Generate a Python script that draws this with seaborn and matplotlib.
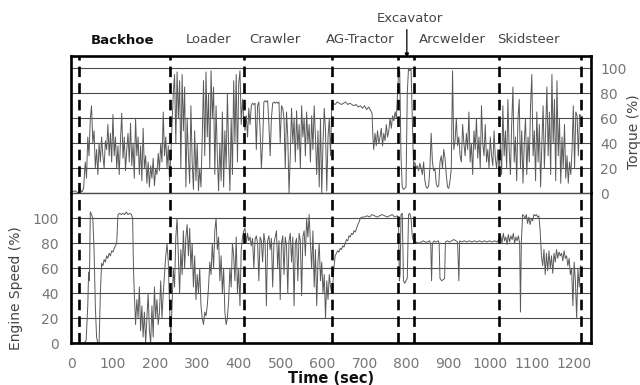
import matplotlib
matplotlib.use("Agg")
import matplotlib.pyplot as plt
import seaborn as sns
import pandas as pd
from matplotlib.transforms import blended_transform_factory

# ---------------- data ----------------
segment_names = ["Backhoe", "Loader", "Crawler", "AG-Tractor", "Excavator", "Arcwelder", "Skidsteer"]
segment_bounds = [19, 236, 413, 623, 780, 819, 1021, 1217]
x_ticks = [0, 100, 200, 300, 400, 500, 600, 700, 800, 900, 1000, 1100, 1200]
y_ticks = [0, 20, 40, 60, 80, 100]

# torque (%) : (time s, value)
torque_backhoe = [
    (0, 1), (10, 2), (18, 0), (22, 3), (26, 1), (30, 4), (34, 25), (37, 12), (40, 45), (43, 30), (46, 60),
    (49, 70), (52, 40), (55, 50), (58, 20), (61, 35), (64, 15), (67, 40), (70, 25), (73, 45), (76, 30),
    (79, 20), (82, 42), (85, 35), (88, 55), (91, 30), (94, 48), (97, 25), (100, 63), (103, 30), (106, 45),
    (109, 20), (112, 38), (115, 15), (118, 42), (121, 64), (124, 28), (127, 45), (130, 18), (133, 35),
    (136, 48), (139, 25), (142, 56), (145, 22), (148, 40), (151, 12), (154, 60), (157, 30), (160, 45),
    (163, 15), (166, 38), (169, 10), (172, 52), (175, 20), (178, 30), (181, 8), (184, 25), (187, 5),
    (190, 22), (193, 12), (196, 28), (199, 6), (202, 20), (205, 15), (208, 32), (211, 18), (214, 40),
    (217, 25), (220, 65), (223, 30), (226, 45), (229, 20), (232, 38), (235, 10),
]
torque_loader = [
    (238, 30), (241, 55), (244, 80), (247, 95), (250, 40), (253, 97), (256, 60), (259, 90), (262, 20),
    (265, 95), (268, 50), (271, 85), (274, 5), (277, 60), (280, 30), (283, 8), (286, 70), (289, 25),
    (292, 3), (295, 50), (298, 10), (301, 40), (304, 2), (307, 20), (310, 5), (313, 45), (316, 90),
    (319, 30), (322, 97), (325, 45), (328, 80), (331, 20), (334, 98), (337, 60), (340, 85), (343, 15),
    (346, 70), (349, 30), (352, 2), (355, 40), (358, 10), (361, 65), (364, 5), (367, 50), (370, 20),
    (373, 80), (376, 35), (379, 2), (382, 60), (385, 15), (388, 90), (391, 40), (394, 95), (397, 25),
    (400, 88), (403, 98), (406, 55), (409, 75), (412, 60),
]
torque_crawler = [
    (415, 50), (418, 62), (421, 45), (424, 68), (427, 55), (430, 70), (433, 72), (436, 71), (439, 72),
    (442, 35), (445, 70), (448, 73), (451, 50), (454, 20), (457, 40), (460, 73), (463, 74), (466, 73),
    (469, 74), (472, 55), (475, 30), (478, 60), (481, 72), (484, 73), (487, 72), (490, 73), (493, 72),
    (496, 73), (499, 40), (502, 70), (505, 68), (508, 60), (511, 20), (514, 65), (517, 45), (520, 0),
    (523, 30), (526, 68), (529, 40), (532, 60), (535, 25), (538, 66), (541, 35), (544, 55), (547, 20),
    (550, 70), (553, 45), (556, 60), (559, 30), (562, 65), (565, 40), (568, 55), (571, 25), (574, 62),
    (577, 35), (580, 70), (583, 45), (586, 15), (589, 50), (592, 5), (595, 60), (598, 0), (601, 40),
    (604, 68), (607, 50), (610, 2), (613, 45), (616, 60), (619, 30), (622, 72),
]
torque_agtractor = [
    (625, 72), (630, 71), (635, 73), (640, 72), (645, 71), (650, 72), (655, 73), (660, 71), (665, 72),
    (670, 71), (675, 70), (680, 71), (685, 69), (690, 70), (695, 68), (700, 70), (705, 67), (710, 69),
    (715, 66), (718, 64), (720, 45), (722, 35), (725, 48), (728, 38), (731, 50), (734, 40), (737, 45),
    (740, 52), (743, 38), (746, 48), (749, 42), (752, 55), (755, 45), (758, 50), (761, 60), (764, 52),
    (767, 62), (770, 58), (773, 65), (776, 60), (779, 80),
]
torque_excavator = [
    (781, 95), (784, 98), (787, 30), (790, 5), (793, 3), (796, 4), (799, 5), (802, 80), (805, 100),
    (808, 98), (811, 100), (814, 60), (817, 20),
]
torque_arcwelder = [
    (820, 25), (823, 20), (826, 22), (829, 18), (832, 24), (835, 20), (838, 15), (841, 25), (844, 10),
    (847, 5), (850, 4), (853, 6), (856, 20), (859, 48), (862, 25), (865, 18), (868, 20), (871, 8),
    (874, 5), (877, 6), (880, 25), (883, 30), (886, 20), (889, 35), (892, 28), (895, 15), (898, 5),
    (901, 4), (904, 10), (907, 20), (910, 98), (913, 35), (916, 42), (919, 60), (922, 38), (925, 45),
    (928, 30), (931, 25), (934, 55), (937, 40), (940, 30), (943, 48), (946, 35), (949, 65), (952, 25),
    (955, 40), (958, 15), (961, 50), (964, 35), (967, 60), (970, 28), (973, 45), (976, 20), (979, 70),
    (982, 40), (985, 30), (988, 55), (991, 25), (994, 35), (997, 20), (1000, 45), (1003, 30), (1006, 22),
    (1009, 50), (1012, 28), (1015, 20), (1018, 35), (1021, 18),
]
torque_skidsteer = [
    (1024, 40), (1027, 15), (1030, 70), (1033, 30), (1036, 50), (1039, 20), (1042, 75), (1045, 35),
    (1048, 15), (1051, 55), (1054, 85), (1057, 25), (1060, 45), (1063, 10), (1066, 60), (1069, 75),
    (1072, 20), (1075, 50), (1078, 8), (1081, 40), (1084, 60), (1087, 15), (1090, 45), (1093, 25),
    (1096, 70), (1099, 95), (1102, 30), (1105, 50), (1108, 10), (1111, 65), (1114, 25), (1117, 55),
    (1120, 5), (1123, 40), (1126, 70), (1129, 20), (1132, 50), (1135, 85), (1138, 30), (1141, 65),
    (1144, 15), (1147, 95), (1150, 40), (1153, 75), (1156, 10), (1159, 90), (1162, 30), (1165, 60),
    (1168, 8), (1171, 45), (1174, 20), (1177, 55), (1180, 12), (1183, 30), (1186, 8), (1189, 25),
    (1192, 15), (1195, 35), (1198, 70), (1201, 20), (1204, 65), (1207, 62), (1210, 30), (1213, 63),
    (1216, 62),
]

# engine speed (%) : (time s, value)
speed_backhoe = [
    (0, 0), (20, 0), (30, 0), (36, 2), (40, 30), (42, 57), (44, 50), (46, 105), (49, 103), (52, 100),
    (55, 75), (58, 30), (61, 5), (64, 0), (67, 0), (70, 40), (73, 64), (76, 62), (79, 67), (82, 65),
    (85, 70), (88, 68), (91, 72), (94, 70), (97, 74), (100, 73), (103, 76), (106, 78), (109, 80),
    (112, 103), (116, 104), (120, 103), (124, 104), (128, 103), (132, 105), (136, 103), (140, 104),
    (144, 103), (147, 100), (149, 60), (151, 40), (154, 15), (157, 35), (160, 20), (163, 45), (166, 10),
    (169, 30), (172, 5), (175, 25), (178, 0), (181, 20), (184, 40), (187, 10), (190, 0), (193, 30),
    (196, 5), (199, 45), (202, 20), (205, 35), (208, 15), (211, 25), (214, 50), (217, 20), (220, 40),
    (223, 55), (226, 70), (229, 80), (232, 65), (235, 30),
]
speed_loader = [
    (238, 5), (241, 30), (244, 60), (247, 45), (250, 85), (253, 100), (256, 70), (259, 40), (262, 75),
    (265, 55), (268, 90), (271, 60), (274, 85), (277, 95), (280, 70), (283, 92), (286, 60), (289, 80),
    (292, 45), (295, 70), (298, 35), (301, 55), (304, 40), (307, 60), (310, 30), (313, 20), (316, 15),
    (319, 25), (322, 22), (325, 30), (328, 45), (331, 65), (334, 55), (337, 80), (340, 60), (343, 90),
    (346, 100), (349, 75), (352, 85), (355, 50), (358, 70), (361, 40), (364, 60), (367, 25), (370, 15),
    (373, 20), (376, 35), (379, 60), (382, 45), (385, 80), (388, 70), (391, 50), (394, 85), (397, 40),
    (400, 60), (403, 30), (406, 75), (409, 85), (412, 90),
]
speed_crawler = [
    (415, 92), (418, 80), (421, 88), (424, 82), (427, 85), (430, 78), (433, 84), (436, 60), (439, 83),
    (442, 86), (445, 80), (448, 50), (451, 85), (454, 82), (457, 65), (460, 88), (463, 80), (466, 30),
    (469, 82), (472, 86), (475, 75), (478, 84), (481, 45), (484, 80), (487, 85), (490, 90), (493, 60),
    (496, 82), (499, 35), (502, 80), (505, 86), (508, 55), (511, 85), (514, 78), (517, 40), (520, 82),
    (523, 88), (526, 65), (529, 85), (532, 30), (535, 80), (538, 84), (541, 50), (544, 88), (547, 82),
    (550, 38), (553, 85), (556, 90), (559, 70), (562, 100), (565, 85), (568, 103), (571, 80), (574, 60),
    (577, 90), (580, 45), (583, 75), (586, 30), (589, 65), (592, 80), (595, 50), (598, 65), (601, 40),
    (604, 55), (607, 20), (610, 50), (613, 35), (616, 55), (619, 45), (622, 40),
]
speed_agtractor = [
    (624, 45), (627, 60), (630, 70), (633, 72), (636, 74), (639, 73), (642, 76), (645, 75), (648, 78),
    (651, 77), (654, 80), (657, 83), (660, 82), (663, 86), (666, 85), (669, 88), (672, 87), (675, 90),
    (678, 89), (681, 92), (684, 95), (687, 97), (690, 100), (694, 101), (700, 101), (706, 102), (712, 101),
    (718, 103), (724, 102), (730, 101), (736, 102), (742, 103), (748, 102), (754, 101), (760, 102),
    (766, 103), (772, 101), (778, 102),
]
speed_excavator = [
    (781, 100), (783, 50), (785, 55), (787, 103), (790, 104), (793, 50), (796, 48), (799, 50), (802, 52),
    (805, 103), (808, 104), (811, 100), (814, 85), (817, 82),
]
speed_arcwelder = [
    (820, 80), (825, 81), (830, 80), (835, 81), (840, 82), (845, 81), (850, 81), (855, 82), (858, 80),
    (860, 50), (862, 80), (866, 82), (870, 81), (876, 82), (878, 80), (880, 52), (884, 50), (888, 51),
    (891, 52), (893, 81), (898, 82), (903, 81), (908, 82), (913, 83), (918, 82), (922, 81), (925, 50),
    (927, 82), (932, 81), (938, 82), (944, 81), (950, 82), (956, 81), (962, 82), (968, 81), (974, 82),
    (980, 81), (986, 82), (992, 81), (998, 82), (1004, 81), (1010, 82), (1016, 81), (1020, 83),
]
speed_skidsteer = [
    (1022, 82), (1025, 86), (1028, 80), (1031, 88), (1034, 82), (1037, 85), (1040, 79), (1043, 87),
    (1046, 81), (1049, 86), (1052, 83), (1055, 88), (1058, 80), (1061, 85), (1064, 82), (1067, 86),
    (1070, 80), (1072, 25), (1074, 80), (1077, 103), (1080, 102), (1083, 100), (1086, 103), (1089, 96),
    (1092, 101), (1095, 95), (1098, 100), (1101, 98), (1104, 103), (1107, 102), (1110, 103), (1113, 101),
    (1116, 102), (1119, 90), (1122, 70), (1125, 62), (1128, 75), (1131, 55), (1134, 72), (1137, 58),
    (1140, 74), (1143, 60), (1146, 70), (1149, 56), (1152, 72), (1155, 65), (1158, 75), (1161, 68),
    (1164, 73), (1167, 70), (1170, 72), (1173, 66), (1176, 74), (1179, 68), (1182, 70), (1185, 62),
    (1188, 68), (1191, 55), (1194, 60), (1197, 30), (1200, 65), (1203, 50), (1206, 20), (1209, 60),
    (1212, 45), (1215, 62),
]

label_times = [122, 329, 487, 690, 809, 909, 1091]

torque_pts = (torque_backhoe + torque_loader + torque_crawler + torque_agtractor
              + torque_excavator + torque_arcwelder + torque_skidsteer)
speed_pts = (speed_backhoe + speed_loader + speed_crawler + speed_agtractor
             + speed_excavator + speed_arcwelder + speed_skidsteer)
torque_df = pd.DataFrame(torque_pts, columns=["time", "torque"])
speed_df = pd.DataFrame(speed_pts, columns=["time", "speed"])

# ---------------- styling ----------------
sns.set_style("white")
plt.rcParams["font.family"] = ["DejaVu Sans"]

W, H = 640, 385
fig = plt.figure(figsize=(W / 100, H / 100), dpi=100)
left_px, right_px = 71, 590.5
top_px, mid_px, bot_px = 55.7, 193.3, 343.3
ax_b = fig.add_axes([left_px / W, (H - bot_px) / H, (right_px - left_px) / W, (bot_px - mid_px) / H])
ax_t = fig.add_axes([left_px / W, (H - mid_px) / H, (right_px - left_px) / W, (mid_px - top_px) / H],
                    sharex=ax_b)

line_col = "#5a5a5a"
grid_col = "#4a4a4a"
tick_col = "#767676"
spine_w = 1.9

sns.lineplot(data=torque_df, x="time", y="torque", ax=ax_t, color=line_col, lw=0.7,
             estimator=None, sort=False)
sns.lineplot(data=speed_df, x="time", y="speed", ax=ax_b, color=line_col, lw=0.7,
             estimator=None, sort=False)

ax_b.set_xlim(0, 1239)
ax_b.set_ylim(0, 120)
ax_t.set_ylim(0, 110)

for ax in (ax_t, ax_b):
    ax.set_yticks(y_ticks)
    ax.yaxis.grid(True, color=grid_col, lw=0.8)
    ax.xaxis.grid(False)
    ax.set_axisbelow(True)
    for b in segment_bounds:
        ax.axvline(b, color="black", lw=1.9, ls=(0, (4, 2.3)), zorder=3)
    for s in ax.spines.values():
        s.set_color("black")
        s.set_linewidth(spine_w)
    ax.set_xlabel("")
    ax.set_ylabel("")

ax_t.spines["bottom"].set_visible(False)
ax_b.spines["top"].set_visible(False)
# divider line between the two panels (torque 0 grid line)
ax_t.axhline(0, color=grid_col, lw=1.0, clip_on=False, zorder=1)

ax_b.set_xticks(x_ticks)
ax_b.tick_params(axis="x", direction="in", length=3, width=1, color="black",
                 labelsize=10, labelcolor=tick_col, pad=10)
ax_b.tick_params(axis="y", length=0, labelsize=10, labelcolor=tick_col, pad=9)
ax_t.tick_params(axis="x", length=0, labelbottom=False)
ax_t.yaxis.tick_right()
ax_t.tick_params(axis="y", length=0, labelsize=10, labelcolor=tick_col, pad=7, labelleft=False, labelright=True)

ax_b.set_xlabel("Time (sec)", fontsize=10.5, fontweight="bold", color="#111111", labelpad=0)
ax_b.set_ylabel("Engine Speed (%)", fontsize=10, color="#444444")
ax_b.yaxis.set_label_coords(-0.093, 0.37)
ax_t.set_ylabel("Torque (%)", fontsize=10, color="#444444", rotation=90)
ax_t.yaxis.set_label_position("right")
ax_t.yaxis.set_label_coords(1.07, 0.45)

trans = blended_transform_factory(ax_t.transData, ax_t.transAxes)
for name, t in zip(segment_names, label_times):
    if name == "Excavator":
        ax_t.text(t, 1.272, name, transform=trans, ha="center", va="center", fontsize=9.5, color="#444444")
    elif name == "Backhoe":
        ax_t.text(t, 1.112, name, transform=trans, ha="center", va="center", fontsize=9.5,
                  fontweight="bold", color="#111111")
    else:
        ax_t.text(t, 1.117, name, transform=trans, ha="center", va="center", fontsize=9.5, color="#444444")

ax_t.annotate("", xy=(801, 0.965), xycoords=trans, xytext=(801, 1.21), textcoords=trans,
              arrowprops=dict(arrowstyle="-|>", color="black", lw=0.9, mutation_scale=6),
              annotation_clip=False)

fig.savefig("out.png", dpi=100)
